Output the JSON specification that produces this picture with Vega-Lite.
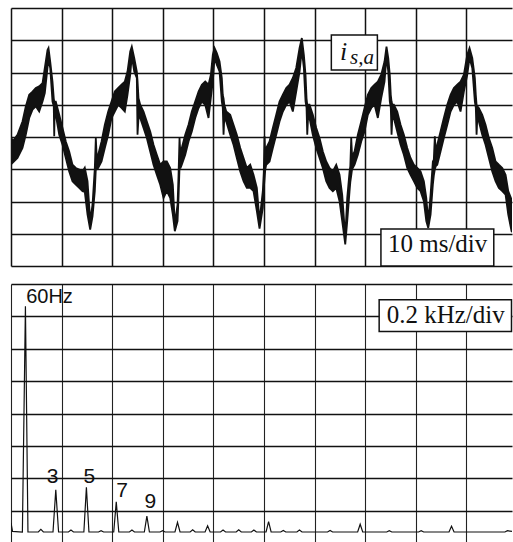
{
  "$schema": "https://vega.github.io/schema/vega-lite/v6.json",
  "background": "white",
  "padding": {"left": 11, "top": 8, "right": 0, "bottom": 0},
  "spacing": 17,
  "config": {
    "view": {"stroke": null},
    "axis": {"domain": false, "ticks": false, "labels": false, "title": null, "grid": true, "gridColor": "#111", "gridOpacity": 1, "gridWidth": 1.5}
  },
  "datasets": {
    "current": [
      {"t": 0, "lo": -0.50, "hi": 0.02}, {"t": 0.3, "lo": -0.80, "hi": -0.14}, {"t": 1.28, "lo": -0.65, "hi": 0.07},
      {"t": 2.27, "lo": -0.34, "hi": 0.48}, {"t": 2.92, "lo": 0.07, "hi": 0.95}, {"t": 3.6, "lo": 0.59, "hi": 1.31},
      {"t": 4.25, "lo": 0.85, "hi": 1.41}, {"t": 4.9, "lo": 0.95, "hi": 1.52}, {"t": 5.57, "lo": 0.79, "hi": 1.57},
      {"t": 6.23, "lo": 1.10, "hi": 1.67}, {"t": 6.68, "lo": 1.36, "hi": 2.14}, {"t": 7.21, "lo": 2.14, "hi": 2.70},
      {"t": 7.41, "lo": 2.40, "hi": 2.76}, {"t": 7.75, "lo": 2.14, "hi": 2.34}, {"t": 8.2, "lo": 1.10, "hi": 1.72},
      {"t": 8.45, "lo": 0.95, "hi": 1.20}, {"t": 8.54, "lo": 0.02, "hi": 1.10}, {"t": 8.63, "lo": 0.85, "hi": 1.10},
      {"t": 8.85, "lo": 0.69, "hi": 1.10}, {"t": 9.53, "lo": 0.07, "hi": 0.69}, {"t": 10.18, "lo": -0.24, "hi": 0.28},
      {"t": 10.83, "lo": -0.65, "hi": -0.14}, {"t": 11.5, "lo": -1.07, "hi": -0.45}, {"t": 12.15, "lo": -1.37, "hi": -0.86},
      {"t": 12.81, "lo": -1.48, "hi": -0.96}, {"t": 13.48, "lo": -1.58, "hi": -1.01}, {"t": 14.13, "lo": -1.68, "hi": -1.07},
      {"t": 14.58, "lo": -1.70, "hi": -0.95}, {"t": 15.12, "lo": -2.41, "hi": -1.37}, {"t": 15.65, "lo": -2.87, "hi": -2.60},
      {"t": 16.11, "lo": -2.46, "hi": -2.10}, {"t": 16.56, "lo": -1.68, "hi": -0.96}, {"t": 16.76, "lo": -1.00, "hi": -0.03},
      {"t": 16.96, "lo": -1.00, "hi": -0.70}, {"t": 17.23, "lo": -0.96, "hi": -0.55}, {"t": 17.89, "lo": -0.76, "hi": -0.14},
      {"t": 18.54, "lo": -0.34, "hi": 0.38}, {"t": 19.21, "lo": 0.07, "hi": 0.79}, {"t": 19.86, "lo": 0.59, "hi": 1.10},
      {"t": 20.51, "lo": 0.79, "hi": 1.41}, {"t": 21.19, "lo": 1.00, "hi": 1.52}, {"t": 21.84, "lo": 0.90, "hi": 1.62},
      {"t": 22.49, "lo": 0.79, "hi": 1.72}, {"t": 23.02, "lo": 1.31, "hi": 2.03}, {"t": 23.56, "lo": 1.93, "hi": 2.65},
      {"t": 23.87, "lo": 2.50, "hi": 2.80}, {"t": 24.35, "lo": 2.03, "hi": 2.45}, {"t": 24.86, "lo": 1.83, "hi": 2.03},
      {"t": 25.0, "lo": 0.07, "hi": 1.75}, {"t": 25.2, "lo": 0.60, "hi": 1.20}, {"t": 25.53, "lo": 0.59, "hi": 1.00},
      {"t": 26.19, "lo": 0.28, "hi": 0.79}, {"t": 26.84, "lo": -0.03, "hi": 0.48}, {"t": 27.51, "lo": -0.45, "hi": 0.17},
      {"t": 28.16, "lo": -0.86, "hi": -0.24}, {"t": 28.81, "lo": -1.17, "hi": -0.55}, {"t": 29.49, "lo": -1.48, "hi": -0.86},
      {"t": 30.14, "lo": -1.89, "hi": -0.76}, {"t": 30.79, "lo": -1.68, "hi": -0.76}, {"t": 31.46, "lo": -1.89, "hi": -0.96},
      {"t": 31.98, "lo": -2.41, "hi": -1.48}, {"t": 32.37, "lo": -2.92, "hi": -2.70}, {"t": 32.91, "lo": -2.61, "hi": -2.10},
      {"t": 33.1, "lo": -1.90, "hi": -1.20}, {"t": 33.3, "lo": -0.96, "hi": -0.03}, {"t": 33.5, "lo": -0.96, "hi": -0.60},
      {"t": 33.75, "lo": -0.86, "hi": -0.34}, {"t": 34.43, "lo": -0.55, "hi": 0.07}, {"t": 35.08, "lo": -0.14, "hi": 0.38},
      {"t": 35.73, "lo": 0.17, "hi": 0.79}, {"t": 36.4, "lo": 0.59, "hi": 1.10}, {"t": 37.06, "lo": 0.90, "hi": 1.41},
      {"t": 37.71, "lo": 1.10, "hi": 1.62}, {"t": 38.38, "lo": 1.00, "hi": 1.72}, {"t": 39.03, "lo": 0.59, "hi": 1.62},
      {"t": 39.49, "lo": 1.21, "hi": 1.93}, {"t": 39.88, "lo": 1.72, "hi": 2.55}, {"t": 40.22, "lo": 2.45, "hi": 2.76},
      {"t": 40.67, "lo": 2.24, "hi": 2.60}, {"t": 41.21, "lo": 2.03, "hi": 2.34}, {"t": 41.66, "lo": 1.10, "hi": 1.83},
      {"t": 41.85, "lo": 0.90, "hi": 1.30}, {"t": 42.0, "lo": 0.07, "hi": 1.20}, {"t": 42.15, "lo": 0.60, "hi": 1.00},
      {"t": 42.53, "lo": 0.48, "hi": 0.79}, {"t": 43.32, "lo": 0.07, "hi": 0.69}, {"t": 43.97, "lo": -0.24, "hi": 0.38},
      {"t": 44.62, "lo": -0.65, "hi": 0.07}, {"t": 45.3, "lo": -1.07, "hi": -0.34}, {"t": 45.95, "lo": -1.37, "hi": -0.65},
      {"t": 46.6, "lo": -1.58, "hi": -0.96}, {"t": 47.27, "lo": -1.58, "hi": -0.86}, {"t": 47.92, "lo": -1.68, "hi": -1.17},
      {"t": 48.58, "lo": -2.30, "hi": -1.58}, {"t": 49.11, "lo": -2.84, "hi": -2.60}, {"t": 49.76, "lo": -2.20, "hi": -1.68},
      {"t": 49.95, "lo": -1.60, "hi": -1.10}, {"t": 50.1, "lo": -1.30, "hi": 0.02}, {"t": 50.25, "lo": -1.00, "hi": -0.60},
      {"t": 50.43, "lo": -0.86, "hi": -0.34}, {"t": 51.09, "lo": -0.76, "hi": -0.14}, {"t": 51.74, "lo": -0.34, "hi": 0.28},
      {"t": 52.41, "lo": 0.07, "hi": 0.69}, {"t": 53.06, "lo": 0.48, "hi": 1.10}, {"t": 53.72, "lo": 0.79, "hi": 1.31},
      {"t": 54.39, "lo": 1.00, "hi": 1.52}, {"t": 55.04, "lo": 1.10, "hi": 1.62}, {"t": 55.69, "lo": 0.79, "hi": 1.83},
      {"t": 56.36, "lo": 1.41, "hi": 2.14}, {"t": 57.02, "lo": 2.03, "hi": 2.76}, {"t": 57.47, "lo": 2.70, "hi": 3.07},
      {"t": 57.87, "lo": 2.14, "hi": 2.55}, {"t": 58.2, "lo": 1.10, "hi": 1.93}, {"t": 58.4, "lo": 0.90, "hi": 1.20},
      {"t": 58.54, "lo": 0.07, "hi": 1.00}, {"t": 58.7, "lo": 0.60, "hi": 1.00}, {"t": 58.99, "lo": 0.59, "hi": 1.00},
      {"t": 59.64, "lo": 0.07, "hi": 0.69}, {"t": 60.32, "lo": -0.34, "hi": 0.28}, {"t": 60.97, "lo": -0.65, "hi": -0.03},
      {"t": 61.62, "lo": -0.96, "hi": -0.45}, {"t": 62.29, "lo": -1.37, "hi": -0.76}, {"t": 62.94, "lo": -1.58, "hi": -0.96},
      {"t": 63.6, "lo": -1.68, "hi": -1.07}, {"t": 64.27, "lo": -1.58, "hi": -0.86}, {"t": 64.92, "lo": -1.99, "hi": -1.17},
      {"t": 65.45, "lo": -2.61, "hi": -1.79}, {"t": 66.05, "lo": -3.33, "hi": -3.10}, {"t": 66.44, "lo": -2.61, "hi": -1.89},
      {"t": 66.9, "lo": -1.68, "hi": -1.07}, {"t": 67.05, "lo": -1.40, "hi": -0.90}, {"t": 67.23, "lo": -1.20, "hi": -0.03},
      {"t": 67.4, "lo": -1.00, "hi": -0.60}, {"t": 67.89, "lo": -0.86, "hi": -0.45}, {"t": 68.54, "lo": -0.55, "hi": 0.07},
      {"t": 69.21, "lo": -0.14, "hi": 0.48}, {"t": 69.86, "lo": 0.17, "hi": 0.90}, {"t": 70.51, "lo": 0.69, "hi": 1.31},
      {"t": 71.19, "lo": 0.90, "hi": 1.52}, {"t": 71.84, "lo": 1.00, "hi": 1.62}, {"t": 72.49, "lo": 0.59, "hi": 1.72},
      {"t": 73.16, "lo": 1.21, "hi": 1.93}, {"t": 73.81, "lo": 1.72, "hi": 2.34}, {"t": 74.2, "lo": 2.50, "hi": 2.80},
      {"t": 74.55, "lo": 2.03, "hi": 2.45}, {"t": 74.85, "lo": 1.10, "hi": 1.93}, {"t": 75.05, "lo": 0.90, "hi": 1.30},
      {"t": 75.2, "lo": 0.07, "hi": 1.10}, {"t": 75.35, "lo": 0.60, "hi": 1.00}, {"t": 75.65, "lo": 0.59, "hi": 1.00},
      {"t": 76.32, "lo": 0.17, "hi": 0.79}, {"t": 76.98, "lo": -0.24, "hi": 0.38}, {"t": 77.63, "lo": -0.55, "hi": 0.07},
      {"t": 78.3, "lo": -0.96, "hi": -0.34}, {"t": 78.95, "lo": -1.17, "hi": -0.65}, {"t": 79.6, "lo": -1.37, "hi": -0.86},
      {"t": 80.28, "lo": -1.58, "hi": -0.96}, {"t": 80.93, "lo": -1.68, "hi": -1.07}, {"t": 81.58, "lo": -1.99, "hi": -1.37},
      {"t": 82.06, "lo": -2.61, "hi": -1.89}, {"t": 82.45, "lo": -2.82, "hi": -2.60}, {"t": 82.91, "lo": -2.41, "hi": -1.79},
      {"t": 83.36, "lo": -1.48, "hi": -0.76}, {"t": 83.55, "lo": -1.20, "hi": -0.70}, {"t": 83.75, "lo": -1.00, "hi": 0.02},
      {"t": 83.95, "lo": -0.90, "hi": -0.50}, {"t": 84.23, "lo": -0.86, "hi": -0.24}, {"t": 84.88, "lo": -0.45, "hi": 0.17},
      {"t": 85.53, "lo": -0.03, "hi": 0.59}, {"t": 86.21, "lo": 0.38, "hi": 1.00}, {"t": 86.86, "lo": 0.79, "hi": 1.31},
      {"t": 87.51, "lo": 1.00, "hi": 1.52}, {"t": 88.18, "lo": 1.10, "hi": 1.62}, {"t": 88.83, "lo": 0.79, "hi": 1.72},
      {"t": 89.49, "lo": 1.41, "hi": 1.93}, {"t": 90.16, "lo": 1.93, "hi": 2.55}, {"t": 90.61, "lo": 2.45, "hi": 2.76},
      {"t": 91.15, "lo": 2.14, "hi": 2.45}, {"t": 91.66, "lo": 1.10, "hi": 1.83}, {"t": 91.85, "lo": 0.90, "hi": 1.30},
      {"t": 92.0, "lo": 0.07, "hi": 1.00}, {"t": 92.15, "lo": 0.60, "hi": 0.95}, {"t": 92.45, "lo": 0.48, "hi": 0.90},
      {"t": 93.12, "lo": 0.07, "hi": 0.69}, {"t": 93.77, "lo": -0.24, "hi": 0.38}, {"t": 94.43, "lo": -0.65, "hi": -0.03},
      {"t": 95.1, "lo": -1.07, "hi": -0.34}, {"t": 95.75, "lo": -1.37, "hi": -0.76}, {"t": 96.4, "lo": -1.58, "hi": -0.86},
      {"t": 97.08, "lo": -1.68, "hi": -0.96}, {"t": 97.73, "lo": -1.79, "hi": -1.17}, {"t": 98.26, "lo": -2.41, "hi": -1.68},
      {"t": 98.91, "lo": -2.92, "hi": -1.94}, {"t": 99, "lo": -2.95, "hi": -2.10}
    ],
    "spectrum": [
      {"f": 0, "a": 0.62}, {"f": 6, "a": 0.36}, {"f": 45, "a": 0.34}, {"f": 57, "a": 7.31}, {"f": 67, "a": 0.34},
      {"f": 108, "a": 0.34}, {"f": 118, "a": 0.42}, {"f": 128, "a": 0.34},
      {"f": 166, "a": 0.34}, {"f": 177, "a": 1.64}, {"f": 188, "a": 0.34},
      {"f": 227, "a": 0.34}, {"f": 237, "a": 0.40}, {"f": 247, "a": 0.34},
      {"f": 288, "a": 0.34}, {"f": 298, "a": 1.72}, {"f": 308, "a": 0.34},
      {"f": 346, "a": 0.34}, {"f": 356, "a": 0.38}, {"f": 366, "a": 0.34},
      {"f": 406, "a": 0.34}, {"f": 416, "a": 1.27}, {"f": 426, "a": 0.34},
      {"f": 468, "a": 0.34}, {"f": 478, "a": 0.40}, {"f": 488, "a": 0.34},
      {"f": 527, "a": 0.34}, {"f": 537, "a": 0.83}, {"f": 547, "a": 0.34},
      {"f": 589, "a": 0.34}, {"f": 599, "a": 0.38}, {"f": 609, "a": 0.34},
      {"f": 648, "a": 0.34}, {"f": 658, "a": 0.64}, {"f": 668, "a": 0.34},
      {"f": 708, "a": 0.34}, {"f": 718, "a": 0.41}, {"f": 728, "a": 0.34},
      {"f": 767, "a": 0.34}, {"f": 777, "a": 0.53}, {"f": 787, "a": 0.34},
      {"f": 828, "a": 0.34}, {"f": 838, "a": 0.40}, {"f": 848, "a": 0.34},
      {"f": 890, "a": 0.34}, {"f": 900, "a": 0.41}, {"f": 910, "a": 0.34},
      {"f": 950, "a": 0.34}, {"f": 960, "a": 0.40}, {"f": 970, "a": 0.34},
      {"f": 1008, "a": 0.34}, {"f": 1018, "a": 0.66}, {"f": 1028, "a": 0.34},
      {"f": 1066, "a": 0.34}, {"f": 1076, "a": 0.39}, {"f": 1086, "a": 0.34},
      {"f": 1130, "a": 0.34}, {"f": 1140, "a": 0.40}, {"f": 1150, "a": 0.34},
      {"f": 1251, "a": 0.34}, {"f": 1261, "a": 0.39}, {"f": 1271, "a": 0.34},
      {"f": 1370, "a": 0.34}, {"f": 1380, "a": 0.58}, {"f": 1390, "a": 0.34},
      {"f": 1485, "a": 0.34}, {"f": 1495, "a": 0.38}, {"f": 1505, "a": 0.34},
      {"f": 1611, "a": 0.34}, {"f": 1621, "a": 0.38}, {"f": 1631, "a": 0.34},
      {"f": 1731, "a": 0.34}, {"f": 1741, "a": 0.52}, {"f": 1751, "a": 0.34},
      {"f": 1952, "a": 0.34}, {"f": 1962, "a": 0.38}, {"f": 1980, "a": 0.36}
    ],
    "harmonicLabels": [
      {"f": 164, "a": 1.85, "label": "3"},
      {"f": 310, "a": 1.85, "label": "5"},
      {"f": 439, "a": 1.43, "label": "7"},
      {"f": 551, "a": 1.07, "label": "9"}
    ]
  },
  "vconcat": [
    {
      "width": 501,
      "height": 258,
      "layer": [
        {
          "data": {"name": "current"},
          "mark": {"type": "area", "color": "#111", "stroke": "#111", "strokeWidth": 1.8, "strokeJoin": "miter", "clip": true},
          "encoding": {
            "x": {"field": "t", "type": "quantitative", "scale": {"domain": [0, 99], "nice": false, "zero": false}, "axis": {"values": [0, 10, 20, 30, 40, 50, 60, 70, 80, 90]}},
            "y": {"field": "hi", "type": "quantitative", "scale": {"domain": [-4, 4], "nice": false}, "axis": {"values": [-4, -3, -2, -1, 0, 1, 2, 3, 4]}},
            "y2": {"field": "lo"}
          }
        },
        {
          "data": {"values": [{"x0": 63.3, "x1": 72.4, "y0": 2.08, "y1": 3.16}, {"x0": 73.1, "x1": 95.4, "y0": -4, "y1": -2.85}]},
          "mark": {"type": "rect", "fill": "white", "stroke": "#111", "strokeWidth": 1.5},
          "encoding": {
            "x": {"field": "x0", "type": "quantitative", "scale": {"domain": [0, 99], "nice": false, "zero": false}, "axis": {"values": [0, 10, 20, 30, 40, 50, 60, 70, 80, 90]}},
            "x2": {"field": "x1"},
            "y": {"field": "y0", "type": "quantitative", "scale": {"domain": [-4, 4], "nice": false}, "axis": {"values": [-4, -3, -2, -1, 0, 1, 2, 3, 4]}},
            "y2": {"field": "y1"}
          }
        },
        {
          "data": {"values": [{"t": 65.0, "y": 2.40, "label": "i"}]},
          "mark": {"type": "text", "font": "Liberation Serif", "fontStyle": "italic", "fontSize": 26, "align": "left", "baseline": "alphabetic", "color": "#111"},
          "encoding": {
            "x": {"field": "t", "type": "quantitative", "scale": {"domain": [0, 99], "nice": false, "zero": false}, "axis": {"values": [0, 10, 20, 30, 40, 50, 60, 70, 80, 90]}},
            "y": {"field": "y", "type": "quantitative", "scale": {"domain": [-4, 4], "nice": false}, "axis": {"values": [-4, -3, -2, -1, 0, 1, 2, 3, 4]}},
            "text": {"field": "label"}
          }
        },
        {
          "data": {"values": [{"t": 67.0, "y": 2.26, "label": "s,a"}]},
          "mark": {"type": "text", "font": "Liberation Serif", "fontStyle": "italic", "fontSize": 21, "align": "left", "baseline": "alphabetic", "color": "#111"},
          "encoding": {
            "x": {"field": "t", "type": "quantitative", "scale": {"domain": [0, 99], "nice": false, "zero": false}, "axis": {"values": [0, 10, 20, 30, 40, 50, 60, 70, 80, 90]}},
            "y": {"field": "y", "type": "quantitative", "scale": {"domain": [-4, 4], "nice": false}, "axis": {"values": [-4, -3, -2, -1, 0, 1, 2, 3, 4]}},
            "text": {"field": "label"}
          }
        },
        {
          "data": {"values": [{"t": 84.3, "y": -3.56, "label": "10 ms/div"}]},
          "mark": {"type": "text", "font": "Liberation Serif", "fontSize": 25, "align": "center", "baseline": "alphabetic", "color": "#111"},
          "encoding": {
            "x": {"field": "t", "type": "quantitative", "scale": {"domain": [0, 99], "nice": false, "zero": false}, "axis": {"values": [0, 10, 20, 30, 40, 50, 60, 70, 80, 90]}},
            "y": {"field": "y", "type": "quantitative", "scale": {"domain": [-4, 4], "nice": false}, "axis": {"values": [-4, -3, -2, -1, 0, 1, 2, 3, 4]}},
            "text": {"field": "label"}
          }
        }
      ]
    },
    {
      "width": 501,
      "height": 259,
      "layer": [
        {
          "data": {"name": "spectrum"},
          "mark": {"type": "line", "color": "#111", "strokeWidth": 1.2, "clip": true},
          "encoding": {
            "x": {"field": "f", "type": "quantitative", "scale": {"domain": [0, 1980], "nice": false, "zero": false}, "axis": {"values": [0, 200, 400, 600, 800, 1000, 1200, 1400, 1600, 1800], "gridWidth": 1.1, "gridColor": "#222"}},
            "y": {"field": "a", "type": "quantitative", "scale": {"domain": [0, 8], "nice": false}, "axis": {"values": [1, 2, 3, 4, 5, 6, 7, 8]}}
          }
        },
        {
          "data": {"name": "harmonicLabels"},
          "mark": {"type": "text", "font": "Liberation Sans", "fontSize": 21, "align": "center", "baseline": "alphabetic", "color": "#111"},
          "encoding": {
            "x": {"field": "f", "type": "quantitative", "scale": {"domain": [0, 1980], "nice": false, "zero": false}, "axis": {"values": [0, 200, 400, 600, 800, 1000, 1200, 1400, 1600, 1800], "gridWidth": 1.1, "gridColor": "#222"}},
            "y": {"field": "a", "type": "quantitative", "scale": {"domain": [0, 8], "nice": false}, "axis": {"values": [1, 2, 3, 4, 5, 6, 7, 8]}},
            "text": {"field": "label"}
          }
        },
        {
          "data": {"values": [{"f": 60, "a": 7.40, "label": "60Hz"}]},
          "mark": {"type": "text", "font": "Liberation Sans", "fontSize": 20, "align": "left", "baseline": "alphabetic", "color": "#111"},
          "encoding": {
            "x": {"field": "f", "type": "quantitative", "scale": {"domain": [0, 1980], "nice": false, "zero": false}, "axis": {"values": [0, 200, 400, 600, 800, 1000, 1200, 1400, 1600, 1800], "gridWidth": 1.1, "gridColor": "#222"}},
            "y": {"field": "a", "type": "quantitative", "scale": {"domain": [0, 8], "nice": false}, "axis": {"values": [1, 2, 3, 4, 5, 6, 7, 8]}},
            "text": {"field": "label"}
          }
        },
        {
          "data": {"values": [{"f0": 1455, "f1": 1978, "a0": 6.53, "a1": 7.51}]},
          "mark": {"type": "rect", "fill": "white", "stroke": "#111", "strokeWidth": 1.5},
          "encoding": {
            "x": {"field": "f0", "type": "quantitative", "scale": {"domain": [0, 1980], "nice": false, "zero": false}, "axis": {"values": [0, 200, 400, 600, 800, 1000, 1200, 1400, 1600, 1800], "gridWidth": 1.1, "gridColor": "#222"}},
            "x2": {"field": "f1"},
            "y": {"field": "a0", "type": "quantitative", "scale": {"domain": [0, 8], "nice": false}, "axis": {"values": [1, 2, 3, 4, 5, 6, 7, 8]}},
            "y2": {"field": "a1"}
          }
        },
        {
          "data": {"values": [{"f": 1718, "a": 6.80, "label": "0.2 kHz/div"}]},
          "mark": {"type": "text", "font": "Liberation Serif", "fontSize": 25, "align": "center", "baseline": "alphabetic", "color": "#111"},
          "encoding": {
            "x": {"field": "f", "type": "quantitative", "scale": {"domain": [0, 1980], "nice": false, "zero": false}, "axis": {"values": [0, 200, 400, 600, 800, 1000, 1200, 1400, 1600, 1800], "gridWidth": 1.1, "gridColor": "#222"}},
            "y": {"field": "a", "type": "quantitative", "scale": {"domain": [0, 8], "nice": false}, "axis": {"values": [1, 2, 3, 4, 5, 6, 7, 8]}},
            "text": {"field": "label"}
          }
        }
      ]
    }
  ]
}
